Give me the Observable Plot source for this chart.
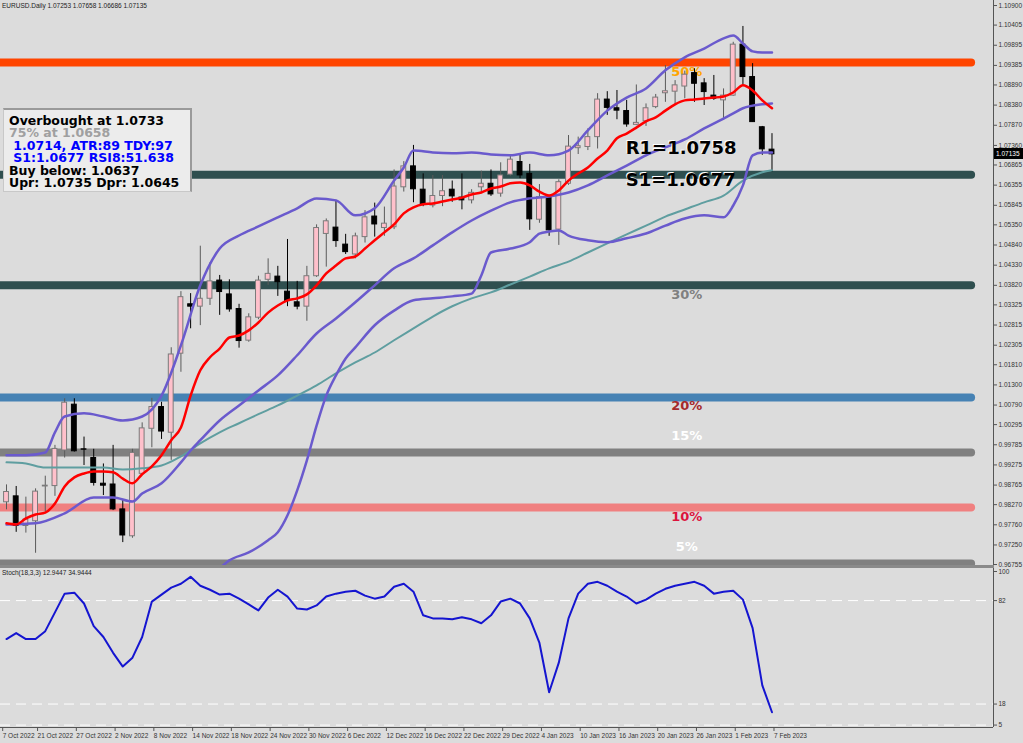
<!DOCTYPE html>
<html><head><meta charset="utf-8">
<script src="https://cdn.jsdelivr.net/npm/d3@7"></script>
<script src="https://cdn.jsdelivr.net/npm/@observablehq/plot@0.6"></script>
<style>
body{margin:0;background:#dcdcdc;}
#wrap{position:relative;width:1023px;height:743px;background:#dcdcdc;overflow:hidden;font-family:"Liberation Sans",Arial,sans-serif;}
#wrap svg{position:absolute;left:0;}
.small{position:absolute;font:6.5px "Liberation Sans",Arial,sans-serif;color:#222;white-space:nowrap;}
#info{position:absolute;left:3px;top:108px;width:189px;height:84px;background:#ececec;box-sizing:border-box;
 border-top:2px solid #9a9a9a;border-right:2px solid #9a9a9a;border-left:1px solid #c8c8c8;border-bottom:1px solid #c8c8c8;
 padding:5px 0 0 5px;font:bold 12.5px "DejaVu Sans",Verdana,sans-serif;white-space:pre;}
#info div{height:12.4px;line-height:12.4px;}
</style></head><body><div id="wrap"></div>
<script>
// ---- candle data (EURUSD daily, 18 Oct 2022 .. 7 Feb 2023) ----
const opens = [0.9833,0.9848,0.9773,0.9785,0.9873,0.9874,0.9964,1.0080,0.9967,0.9945,0.9880,0.9878,0.9815,0.9747,0.9905,1.0019,1.0074,1.0009,1.0209,1.0334,1.0328,1.0348,1.0394,1.0359,1.0322,1.0242,1.0300,1.0396,1.0404,1.0366,1.0339,1.0328,1.0405,1.0512,1.0528,1.0485,1.0460,1.0504,1.0556,1.0527,1.0529,1.0630,1.0683,1.0624,1.0584,1.0608,1.0624,1.0604,1.0597,1.0630,1.0639,1.0614,1.0662,1.0694,1.0664,1.0548,1.0604,1.0523,1.0639,1.0729,1.0732,1.0757,1.0852,1.0830,1.0823,1.0788,1.0797,1.0833,1.0868,1.0872,1.0885,1.0919,1.0893,1.0862,1.0850,1.0862,1.0991,1.0909,1.0782,1.07253];
const highs = [0.9877,0.9873,0.9846,0.9867,0.9899,0.9977,1.0095,1.0095,0.9998,0.9967,0.9930,0.9977,0.9839,0.9967,1.0034,1.0096,1.0086,1.0224,1.0366,1.0361,1.0481,1.0439,1.0407,1.0396,1.0334,1.0310,1.0405,1.0449,1.0430,1.0498,1.0392,1.0430,1.0535,1.0550,1.0597,1.0511,1.0514,1.0571,1.0590,1.0580,1.0674,1.0695,1.0736,1.0664,1.0660,1.0660,1.0646,1.0664,1.0624,1.0671,1.0674,1.0692,1.0712,1.0712,1.0688,1.0637,1.0609,1.0649,1.0761,1.0757,1.0778,1.0867,1.0872,1.0875,1.0850,1.0889,1.0841,1.0865,1.0938,1.0900,1.0924,1.0930,1.0905,1.0913,1.0879,1.0997,1.1037,1.0943,1.0784,1.07658];
const lows = [0.9814,0.9757,0.9755,0.9704,0.9808,0.9848,0.9945,0.9960,0.9926,0.9874,0.9850,0.9812,0.9731,0.9742,0.9903,0.9971,0.9992,0.9939,1.0162,1.0272,1.0280,1.0331,1.0306,1.0314,1.0223,1.0238,1.0295,1.0382,1.0354,1.0328,1.0320,1.0291,1.0402,1.0428,1.0478,1.0460,1.0449,1.0489,1.0504,1.0506,1.0523,1.0618,1.0591,1.0581,1.0578,1.0581,1.0592,1.0573,1.0588,1.0618,1.0607,1.0605,1.0657,1.0652,1.0521,1.0539,1.0506,1.0483,1.0635,1.0713,1.0723,1.0727,1.0812,1.0801,1.0782,1.0786,1.0784,1.0829,1.0845,1.0837,1.0854,1.0845,1.0837,1.0850,1.0803,1.0860,1.0888,1.0794,1.0711,1.06686];
const closes = [0.9859,0.9773,0.9789,0.9860,0.9875,0.9968,1.0085,0.9962,0.9966,0.9882,0.9875,0.9815,0.9749,0.9958,1.0020,1.0074,1.0012,1.0207,1.0352,1.0328,1.0348,1.0392,1.0365,1.0321,1.0241,1.0301,1.0394,1.0411,1.0390,1.0342,1.0328,1.0405,1.0527,1.0544,1.0494,1.0466,1.0506,1.0554,1.0536,1.0538,1.0632,1.0683,1.0625,1.0587,1.0608,1.0620,1.0607,1.0597,1.0616,1.0639,1.0612,1.0660,1.0700,1.0660,1.0549,1.0605,1.0521,1.0643,1.0733,1.0734,1.0757,1.0852,1.0831,1.0824,1.0789,1.0793,1.0830,1.0857,1.0873,1.0888,1.0915,1.0892,1.0871,1.0854,1.0862,1.0991,1.0909,1.0795,1.0726,1.07135];

// ---- indicator lines (bar index, price) ----
const redMA = [0.9780,0.9777,0.9792,0.9802,0.9807,0.9830,0.9873,0.9896,0.9906,0.9911,0.9911,0.9909,0.9893,0.9881,0.9904,0.9924,0.9952,0.9990,1.0022,1.0103,1.0167,1.0200,1.0222,1.0250,1.0255,1.0268,1.0288,1.0313,1.0331,1.0344,1.0349,1.0359,1.0382,1.0412,1.0432,1.0450,1.0455,1.0475,1.0496,1.0516,1.0536,1.0564,1.0579,1.0587,1.0589,1.0594,1.0599,1.0604,1.0612,1.0617,1.0627,1.0632,1.0640,1.0642,1.0635,1.0619,1.0609,1.0622,1.0647,1.0665,1.0680,1.0703,1.0723,1.0754,1.0766,1.0781,1.0797,1.0807,1.0824,1.0840,1.0850,1.0852,1.0855,1.0857,1.0860,1.0870,1.0888,1.0875,1.0850,1.0830];
const upperIdx = [0,2,4,5,6,8,10,12,14,16,18,20,22,24,26,28,30,32,34,36,38,40,41,42,44,46,48,50,52,54,56,58,60,62,64,66,68,70,72,74,75,76,77,78,79];
const upperVal = [0.9952,0.9952,0.9959,1.0010,1.0050,1.0058,1.0050,1.0040,1.0050,1.0103,1.0230,1.0382,1.0475,1.0508,1.0531,1.0554,1.0577,1.0602,1.0597,1.0559,1.0577,1.0647,1.0680,1.0723,1.0718,1.0716,1.0718,1.0713,1.0711,1.0718,1.0711,1.0723,1.0774,1.0824,1.0857,1.0880,1.0926,1.0959,1.0981,1.1007,1.1014,1.0994,1.0974,1.0971,1.0971];
const midIdx = [0,3,6,9,11,13,14,16,18,19,20,22,24,26,28,30,32,34,36,38,40,42,44,46,48,50,52,54,56,58,60,62,64,66,68,70,72,74,75,76,78,79];
const midVal = [0.9777,0.9780,0.9805,0.9845,0.9845,0.9835,0.9855,0.9881,0.9934,0.9964,0.9990,1.0040,1.0078,1.0116,1.0154,1.0205,1.0260,1.0298,1.0339,1.0382,1.0425,1.0450,1.0483,1.0516,1.0546,1.0571,1.0592,1.0602,1.0607,1.0617,1.0635,1.0660,1.0685,1.0711,1.0731,1.0751,1.0779,1.0804,1.0817,1.0830,1.0840,1.0842];
const lowerIdx = [20,22,23,25,27,28,29,30,31,32,33,34,35,36,38,40,42,44,46,48,49,50,52,54,55,56,57,58,60,62,64,66,68,70,72,74,75,76,77,78,79];
const lowerVal = [0.9623,0.9666,0.9686,0.9706,0.9737,0.9757,0.9800,0.9863,0.9939,1.0027,1.0103,1.0154,1.0197,1.0225,1.0281,1.0318,1.0344,1.0349,1.0354,1.0361,1.0407,1.0465,1.0475,1.0491,1.0513,1.0518,1.0521,1.0508,1.0496,1.0491,1.0501,1.0513,1.0533,1.0551,1.0559,1.0554,1.0584,1.0635,1.0711,1.0718,1.0718];
const tealIdx = [0,2,4,6,8,10,12,14,16,18,20,22,24,26,28,30,32,34,36,38,40,42,44,46,48,50,52,54,56,58,60,62,64,66,68,70,72,74,76,78,79];
const tealVal = [0.9934,0.9931,0.9921,0.9921,0.9921,0.9921,0.9916,0.9919,0.9926,0.9949,0.9982,1.0010,1.0033,1.0056,1.0078,1.0103,1.0129,1.0159,1.0187,1.0212,1.0243,1.0273,1.0303,1.0329,1.0349,1.0364,1.0384,1.0404,1.0425,1.0442,1.0465,1.0488,1.0511,1.0533,1.0556,1.0574,1.0592,1.0609,1.0647,1.0668,1.0673];

// ---- stochastic main line (one value per bar) ----
const stochVals = [58.2,61.9,58.2,58.2,63.1,74.7,86.3,86.9,80.2,66.2,59.5,49.7,41.2,46.7,59.5,81.4,85.7,90.0,92.4,96.7,91.2,88.7,85.7,86.3,83.2,79.6,75.9,83.9,88.7,84.5,77.1,76.5,79.0,84.5,86.3,87.5,88.1,85.1,83.2,84.5,90.6,92.4,87.5,72.9,71.0,71.0,70.4,71.7,70.4,68.0,72.9,81.4,83.2,80.2,71.0,55.8,25.3,43.6,71.0,86.3,92.4,93.6,91.2,87.5,84.5,80.2,82.6,86.3,89.3,91.2,92.4,93.6,91.2,86.3,87.5,88.1,82.6,65.0,29.6,12.9447];
const stochLevels = [82, 18, 5];
const stochTicks = [100, 82, 18, 5];

// ---- horizontal levels and labels ----
const levelPrices = [1.0946, 1.0662, 1.0382, 1.0098, 0.9959, 0.9820, 0.9678];
const levelColors = ["#ff4500", "#2f4f4f", "#2f4f4f", "#4682b4", "#808080", "#f08080", "#808080"];
const pctText = ["50%", "30%", "20%", "15%", "10%", "5%"];
const pctPrice = [1.0921, 1.0359, 1.0076, 1.0002, 0.9795, 0.9721];
const pctColor = ["#ffa500", "#808080", "#a52a2a", "#ffffff", "#dc143c", "#ffffff"];
const pivotText = ["R1=1.0758", "S1=1.0677"];
const pivotPrice = [1.0728, 1.0647];

// ---- axes ----
const priceTicks = [1.10900,1.10405,1.09895,1.09385,1.08890,1.08380,1.07870,1.07360,1.06865,1.06355,1.05845,1.05350,1.04840,1.04330,1.03820,1.03325,1.02815,1.02305,1.01810,1.01300,1.00790,1.00295,0.99785,0.99275,0.98765,0.98270,0.97760,0.97250,0.96755];
const dateIdx = [-0.6,3,7,11,15,19,23,27,31,35,39,43,47,51,55,59,63,67,71,75,79];
const dateLabels = ["7 Oct 2022","21 Oct 2022","27 Oct 2022","2 Nov 2022","8 Nov 2022","14 Nov 2022","18 Nov 2022","24 Nov 2022","30 Nov 2022","6 Dec 2022","12 Dec 2022","16 Dec 2022","22 Dec 2022","29 Dec 2022","4 Jan 2023","10 Jan 2023","16 Jan 2023","20 Jan 2023","26 Jan 2023","1 Feb 2023","7 Feb 2023"];

const headerText = "EURUSD.Daily  1.07253 1.07658 1.06686 1.07135";
const stochText = "Stoch(18,3,3) 12.9447 34.9444";
const infoLines = [
  ["Overbought at 1.0733", "#000000"],
  ["75% at 1.0658", "#a0a0a0"],
  [" 1.0714, ATR:89 TDY:97", "#0000ff"],
  [" S1:1.0677 RSI8:51.638", "#0000ff"],
  ["Buy below: 1.0637", "#000000"],
  ["Upr: 1.0735 Dpr: 1.0645", "#000000"]
];

// ================= drawing =================
const wrap = document.getElementById("wrap");
const xDom = [-0.62, 101.86];
const yDom = [0.96705, 1.11027];
const F = "Liberation Sans, Arial, sans-serif";
const FB = "DejaVu Sans, Verdana, sans-serif";

const bars = opens.map((o, i) => ({i, o, h: highs[i], l: lows[i], c: closes[i], up: closes[i] >= o}));
const pairs = (idx, val) => idx.map((d, k) => ({i: d, v: val[k]}));
const levels = levelPrices.map((p, k) => ({p, col: levelColors[k]}));
const pcts = pctText.map((t, k) => ({t, p: pctPrice[k], col: pctColor[k]}));
const pivots = pivotText.map((t, k) => ({t, p: pivotPrice[k]}));
const dateMap = new Map(dateIdx.map((d, k) => [d, dateLabels[k]]));

const main = Plot.plot({
  width: 1023, height: 566,
  marginLeft: 0, marginRight: 30, marginTop: 0, marginBottom: 0,
  x: {domain: xDom, axis: null},
  y: {domain: yDom, axis: null},
  color: {type: "identity"},
  style: {background: "transparent", fontFamily: F, overflow: "visible"},
  marks: [
    Plot.ruleY(levels, {y: "p", x1: xDom[0], x2: 99.6, stroke: "col", strokeWidth: 8, strokeLinecap: "round", clip: true}),
    Plot.text(pcts, {x: 70.2, y: "p", text: "t", fill: "col", fontSize: 13, fontWeight: "bold", fontFamily: FB}),
    Plot.ruleX(bars, {x: "i", y1: "l", y2: "h", stroke: d => d.up ? "#5a5a5a" : "#000", strokeWidth: 1}),
    Plot.rect(bars, {x1: d => d.i - 0.25, x2: d => d.i + 0.25, y1: "o", y2: "c",
      fill: d => d.up ? "#ffc0cb" : "#000", stroke: d => d.up ? "#7a7a7a" : "#000", strokeWidth: 1}),
    Plot.line(pairs(tealIdx, tealVal), {x: "i", y: "v", stroke: "#5f9ea0", strokeWidth: 2, curve: "monotone-x"}),
    Plot.line(pairs(upperIdx, upperVal), {x: "i", y: "v", stroke: "#6a5acd", strokeWidth: 2.5, curve: "monotone-x"}),
    Plot.line(pairs(midIdx, midVal), {x: "i", y: "v", stroke: "#6a5acd", strokeWidth: 2.5, curve: "monotone-x"}),
    Plot.line(pairs(lowerIdx, lowerVal), {x: "i", y: "v", stroke: "#6a5acd", strokeWidth: 2.5, curve: "monotone-x", clip: true}),
    Plot.line(redMA.map((v, i) => ({i, v})), {x: "i", y: "v", stroke: "#ff0000", strokeWidth: 2.5, curve: "monotone-x"}),
    Plot.text(pivots, {x: 63.9, y: "p", text: "t", textAnchor: "start", dx: -1, dy: -1, fill: "#ffffff", fontSize: 18, fontWeight: "bold", fontFamily: FB}),
    Plot.text(pivots, {x: 63.9, y: "p", text: "t", textAnchor: "start", fill: "#000000", fontSize: 18, fontWeight: "bold", fontFamily: FB}),
    Plot.ruleX([xDom[1]], {stroke: "#555", strokeWidth: 1}),
    Plot.axisY(priceTicks, {anchor: "right", tickFormat: d3.format(".5f"), tickSize: 3, tickPadding: 2,
      fontSize: 6.5, stroke: "#555", fill: "#333", label: null})
  ]
});
main.style.top = "0px";
wrap.appendChild(main);

const stoch = Plot.plot({
  width: 1023, height: 177,
  marginLeft: 0, marginRight: 30, marginTop: 5, marginBottom: 16,
  x: {domain: xDom, axis: null},
  y: {domain: [3.5, 100], axis: null},
  style: {background: "transparent", fontFamily: F, overflow: "visible"},
  marks: [
    Plot.ruleY(stochLevels, {x1: xDom[0], x2: xDom[1], stroke: "#ffffff", strokeWidth: 1, strokeDasharray: "10,6"}),
    Plot.line(stochVals.map((v, i) => ({i, v})), {x: "i", y: "v", stroke: "#1515d0", strokeWidth: 2}),
    Plot.ruleY([3.5], {stroke: "#555", strokeWidth: 1}),
    Plot.ruleX([xDom[1]], {y1: 3.5, y2: 104, stroke: "#555", strokeWidth: 1}),
    Plot.axisY(stochTicks, {anchor: "right", tickSize: 3, tickPadding: 2, fontSize: 6.5, fill: "#333", stroke: "#555",
      tickFormat: d => String(d), label: null}),
    Plot.axisX(dateIdx, {anchor: "bottom", tickSize: 4, tickPadding: 2, fontSize: 6.5, fill: "#333", stroke: "#555",
      textAnchor: "start", dx: 2, tickFormat: d => dateMap.get(d), label: null})
  ]
});
stoch.style.top = "566px";
wrap.appendChild(stoch);

// separator between the panels
const sep = document.createElement("div");
sep.style.cssText = "position:absolute;left:0;top:565px;width:994px;height:3px;background:#8a8a8a;";
wrap.appendChild(sep);

// header texts
const h = document.createElement("div");
h.className = "small"; h.style.left = "2px"; h.style.top = "2px"; h.textContent = headerText;
wrap.appendChild(h);
const s = document.createElement("div");
s.className = "small"; s.style.left = "2px"; s.style.top = "569px"; s.textContent = stochText;
wrap.appendChild(s);

// current price marker
const yLast = main.scale("y").apply(closes[closes.length - 1]);
const cp = document.createElement("div");
cp.className = "small";
cp.style.cssText += `left:994px;top:${yLast - 5.5}px;width:29px;height:11px;line-height:11px;background:#000;color:#fff;padding-left:2px;box-sizing:border-box;`;
cp.textContent = d3.format(".5f")(closes[closes.length - 1]);
wrap.appendChild(cp);

// info box
const info = document.createElement("div");
info.id = "info";
for (const [t, c] of infoLines) {
  const d = document.createElement("div");
  d.textContent = t; d.style.color = c;
  info.appendChild(d);
}
wrap.appendChild(info);
</script></body></html>
